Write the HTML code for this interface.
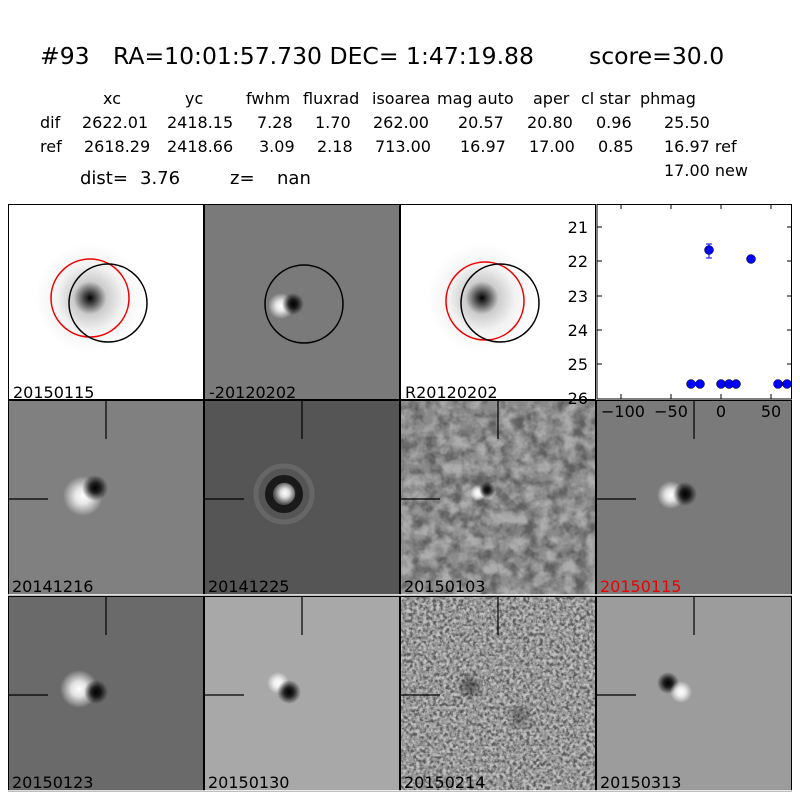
<!DOCTYPE html>
<html><head><meta charset="utf-8"><style>
html,body{margin:0;padding:0;background:#fff;width:800px;height:800px;overflow:hidden}
svg{display:block;font-family:"DejaVu Sans","Liberation Sans",sans-serif}
</style></head><body>
<svg width="800" height="800" viewBox="0 0 800 800" xmlns="http://www.w3.org/2000/svg">
<defs>
<radialGradient id="dk"><stop offset="0" stop-color="#000" stop-opacity="1"/><stop offset="0.4" stop-color="#000" stop-opacity="0.8"/><stop offset="1" stop-color="#000" stop-opacity="0"/></radialGradient>
<radialGradient id="wt"><stop offset="0" stop-color="#fff" stop-opacity="1"/><stop offset="0.4" stop-color="#fff" stop-opacity="0.8"/><stop offset="1" stop-color="#fff" stop-opacity="0"/></radialGradient>
<radialGradient id="soft"><stop offset="0" stop-color="#000" stop-opacity="1"/><stop offset="0.12" stop-color="#000" stop-opacity="0.7"/><stop offset="0.3" stop-color="#000" stop-opacity="0.2"/><stop offset="0.6" stop-color="#000" stop-opacity="0.05"/><stop offset="1" stop-color="#000" stop-opacity="0"/></radialGradient>
<filter id="noise" x="0" y="0" width="100%" height="100%"><feTurbulence type="fractalNoise" baseFrequency="0.08" numOctaves="3" seed="3"/><feColorMatrix type="matrix" values="0 0 0 0 0  0 0 0 0 0  0 0 0 0 0  -3 0 0 0 1.9"/></filter>
<filter id="noiseW" x="0" y="0" width="100%" height="100%"><feTurbulence type="fractalNoise" baseFrequency="0.08" numOctaves="3" seed="11"/><feColorMatrix type="matrix" values="0 0 0 0 1  0 0 0 0 1  0 0 0 0 1  3 0 0 0 -1.1"/></filter>
<filter id="noise2" x="0" y="0" width="100%" height="100%"><feTurbulence type="fractalNoise" baseFrequency="0.3" numOctaves="2" seed="7"/><feColorMatrix type="matrix" values="0 0 0 0 0  0 0 0 0 0  0 0 0 0 0  -4 0 0 0 2.4"/></filter>
<filter id="noise2W" x="0" y="0" width="100%" height="100%"><feTurbulence type="fractalNoise" baseFrequency="0.3" numOctaves="2" seed="17"/><feColorMatrix type="matrix" values="0 0 0 0 1  0 0 0 0 1  0 0 0 0 1  4 0 0 0 -1.6"/></filter>
</defs>
<rect width="800" height="800" fill="#fff"/>
<g font-size="23.5">
<text x="40" y="64">#93</text><text x="113" y="64">RA=10:01:57.730 DEC= 1:47:19.88</text><text x="589" y="64">score=30.0</text>
</g>
<g font-size="16">
<text x="103" y="104">xc</text><text x="185" y="104">yc</text><text x="246" y="104">fwhm</text><text x="303" y="104">fluxrad</text><text x="372" y="104">isoarea</text><text x="437" y="104">mag auto</text><text x="533" y="104">aper</text><text x="581" y="104">cl star</text><text x="640" y="104">phmag</text>
<text x="40" y="128">dif</text><text x="82" y="128">2622.01</text><text x="167" y="128">2418.15</text><text x="257" y="128">7.28</text><text x="315" y="128">1.70</text><text x="373" y="128">262.00</text><text x="458" y="128">20.57</text><text x="527" y="128">20.80</text><text x="596" y="128">0.96</text><text x="664" y="128">25.50</text>
<text x="40" y="152">ref</text><text x="84" y="152">2618.29</text><text x="167" y="152">2418.66</text><text x="259" y="152">3.09</text><text x="317" y="152">2.18</text><text x="375" y="152">713.00</text><text x="460" y="152">16.97</text><text x="529" y="152">17.00</text><text x="598" y="152">0.85</text><text x="664" y="152">16.97 ref</text>
<text x="664" y="176">17.00 new</text>
</g>
<g font-size="18"><text x="80" y="184">dist=</text><text x="140" y="184">3.76</text><text x="230" y="184">z=</text><text x="277" y="184">nan</text></g>

<!-- Row 1 -->
<rect x="8" y="204" width="196" height="196" fill="#fff"/>
<circle cx="90" cy="298" r="55" fill="url(#soft)"/>
<circle cx="90" cy="298" r="39" fill="none" stroke="#e00" stroke-width="1.5"/>
<circle cx="108" cy="303" r="39" fill="none" stroke="#000" stroke-width="1.5"/>
<rect x="204" y="204" width="196" height="196" fill="#7a7a7a"/>
<circle cx="281" cy="306" r="13" fill="url(#wt)"/>
<circle cx="293" cy="304" r="11" fill="url(#dk)"/>
<circle cx="304" cy="304" r="39" fill="none" stroke="#000" stroke-width="1.5"/>
<rect x="400" y="204" width="196" height="196" fill="#fff"/>
<circle cx="482" cy="298" r="55" fill="url(#soft)"/>
<circle cx="485" cy="301" r="39" fill="none" stroke="#e00" stroke-width="1.5"/>
<circle cx="500" cy="303" r="39" fill="none" stroke="#000" stroke-width="1.5"/>

<!-- Row 2 -->
<rect x="8" y="400" width="196" height="196" fill="#808080"/>
<circle cx="83" cy="496" r="20" fill="url(#wt)"/>
<circle cx="95" cy="488" r="13" fill="url(#dk)"/>
<rect x="204" y="400" width="196" height="196" fill="#555"/>
<circle cx="284" cy="494" r="28" fill="none" stroke="#777" stroke-width="5" opacity="0.5"/>
<circle cx="284" cy="494" r="15" fill="none" stroke="#111" stroke-width="8" opacity="0.85"/>
<circle cx="285" cy="493" r="11" fill="url(#wt)"/>
<rect x="400" y="400" width="196" height="196" fill="#8a8a8a"/>
<rect x="400" y="400" width="196" height="196" filter="url(#noise)" opacity="0.3"/>
<rect x="400" y="400" width="196" height="196" filter="url(#noiseW)" opacity="0.3"/>
<circle cx="478" cy="493" r="8" fill="url(#wt)"/>
<circle cx="487" cy="490" r="8" fill="url(#dk)"/>
<rect x="596" y="400" width="196" height="196" fill="#7a7a7a"/>
<circle cx="671" cy="495" r="14" fill="url(#wt)"/>
<circle cx="685" cy="494" r="12" fill="url(#dk)"/>

<!-- Row 3 -->
<rect x="8" y="596" width="196" height="196" fill="#6a6a6a"/>
<circle cx="79" cy="689" r="19" fill="url(#wt)"/>
<circle cx="96" cy="692" r="12" fill="url(#dk)"/>
<rect x="204" y="596" width="196" height="196" fill="#a8a8a8"/>
<circle cx="278" cy="683" r="11" fill="url(#wt)"/>
<circle cx="289" cy="692" r="12" fill="url(#dk)"/>
<rect x="400" y="596" width="196" height="196" fill="#999"/>
<rect x="400" y="596" width="196" height="196" filter="url(#noise2)" opacity="0.4"/>
<rect x="400" y="596" width="196" height="196" filter="url(#noise2W)" opacity="0.4"/>
<circle cx="470" cy="686" r="14" fill="url(#dk)" opacity="0.4"/>
<circle cx="520" cy="716" r="14" fill="url(#dk)" opacity="0.3"/>
<rect x="596" y="596" width="196" height="196" fill="#9c9c9c"/>
<circle cx="668" cy="683" r="11" fill="url(#dk)"/>
<circle cx="681" cy="692" r="11" fill="url(#wt)"/>

<!-- crosshairs -->
<g stroke="#000" stroke-width="1.2">
<line x1="106" y1="400" x2="106" y2="439"/><line x1="8" y1="499" x2="48" y2="499"/>
<line x1="302" y1="400" x2="302" y2="439"/><line x1="204" y1="499" x2="244" y2="499"/>
<line x1="498" y1="400" x2="498" y2="439"/><line x1="400" y1="499" x2="440" y2="499"/>
<line x1="694" y1="400" x2="694" y2="439"/><line x1="596" y1="499" x2="636" y2="499"/>
<line x1="106" y1="596" x2="106" y2="635"/><line x1="8" y1="695" x2="48" y2="695"/>
<line x1="302" y1="596" x2="302" y2="635"/><line x1="204" y1="695" x2="244" y2="695"/>
<line x1="498" y1="596" x2="498" y2="635"/><line x1="400" y1="695" x2="440" y2="695"/>
<line x1="694" y1="596" x2="694" y2="635"/><line x1="596" y1="695" x2="636" y2="695"/>
</g>
<!-- frames -->
<g fill="none" stroke="#000" stroke-width="1">
<rect x="8.5" y="204.5" width="195" height="195"/><rect x="204.5" y="204.5" width="195" height="195"/><rect x="400.5" y="204.5" width="195" height="195"/>
<rect x="8.5" y="400.5" width="195" height="195"/><rect x="204.5" y="400.5" width="195" height="195"/><rect x="400.5" y="400.5" width="195" height="195"/><rect x="596.5" y="400.5" width="195" height="195"/>
<rect x="8.5" y="596.5" width="195" height="195"/><rect x="204.5" y="596.5" width="195" height="195"/><rect x="400.5" y="596.5" width="195" height="195"/><rect x="596.5" y="596.5" width="195" height="195"/>
</g>
<g stroke="#fff" stroke-width="1.5"><line x1="8" y1="595" x2="792" y2="595"/><line x1="8" y1="791" x2="792" y2="791"/></g>

<!-- labels -->
<g font-size="16">
<text x="13" y="398">20150115</text><text x="209" y="398">-20120202</text><text x="405" y="398">R20120202</text>
<text x="12" y="592">20141216</text><text x="208" y="592">20141225</text><text x="404" y="592">20150103</text><text x="600" y="592" fill="#e00">20150115</text>
<text x="12" y="788">20150123</text><text x="208" y="788">20150130</text><text x="404" y="788">20150214</text><text x="600" y="788">20150313</text>
</g>

<!-- plot -->
<rect x="597" y="204" width="195" height="195" fill="#fff"/>
<g stroke="#000" stroke-width="1">
<line x1="621" y1="204" x2="621" y2="209"/><line x1="671" y1="204" x2="671" y2="209"/><line x1="721" y1="204" x2="721" y2="209"/><line x1="771" y1="204" x2="771" y2="209"/>
<line x1="621" y1="399" x2="621" y2="394"/><line x1="671" y1="399" x2="671" y2="394"/><line x1="721" y1="399" x2="721" y2="394"/><line x1="771" y1="399" x2="771" y2="394"/>
<line x1="597" y1="227" x2="602" y2="227"/><line x1="597" y1="261" x2="602" y2="261"/><line x1="597" y1="296" x2="602" y2="296"/><line x1="597" y1="330" x2="602" y2="330"/><line x1="597" y1="364" x2="602" y2="364"/>
<line x1="792" y1="227" x2="787" y2="227"/><line x1="792" y1="261" x2="787" y2="261"/><line x1="792" y1="296" x2="787" y2="296"/><line x1="792" y1="330" x2="787" y2="330"/><line x1="792" y1="364" x2="787" y2="364"/>
</g>
<rect x="597" y="204.5" width="194.5" height="194.5" fill="none" stroke="#000"/>
<g font-size="16" text-anchor="end">
<text x="588" y="233">21</text><text x="588" y="267">22</text><text x="588" y="302">23</text><text x="588" y="336">24</text><text x="588" y="370">25</text><text x="588" y="404">26</text>
</g>
<g font-size="16" text-anchor="middle">
<text x="623" y="417">−100</text><text x="671" y="417">−50</text><text x="721" y="417">0</text><text x="771" y="417">50</text>
</g>
<g stroke="#00f" stroke-width="1"><line x1="709" y1="244" x2="709" y2="258"/><line x1="706" y1="244" x2="712" y2="244"/><line x1="706" y1="258" x2="712" y2="258"/></g>
<g fill="#00f" stroke="#000" stroke-width="0.5">
<circle cx="709" cy="250" r="4.5"/><circle cx="751" cy="259" r="4.5"/>
<circle cx="691" cy="384" r="4.5"/><circle cx="700" cy="384" r="4.5"/><circle cx="721" cy="384" r="4.5"/><circle cx="729" cy="384" r="4.5"/><circle cx="736" cy="384" r="4.5"/><circle cx="778" cy="384" r="4.5"/><circle cx="787" cy="384" r="4.5"/>
</g>
</svg>
</body></html>
